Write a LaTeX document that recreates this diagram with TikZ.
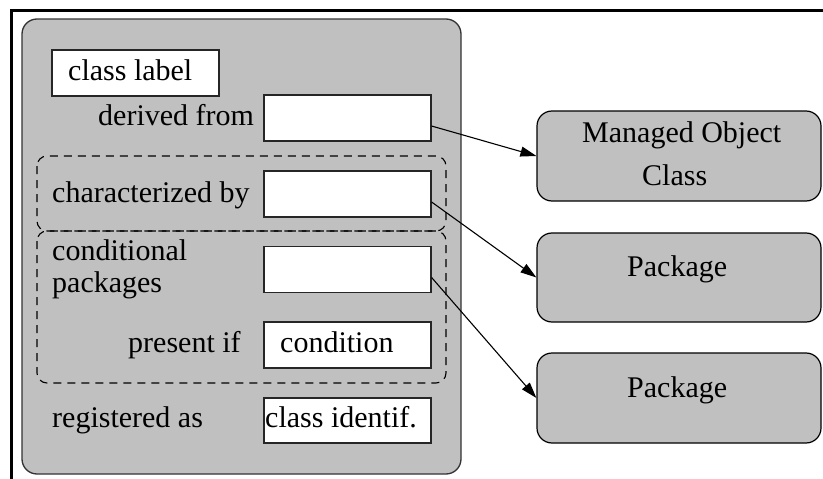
\documentclass[tikz,border=0pt]{standalone}
\usepackage{fontspec}
\setmainfont{Liberation Serif}
\newfontfamily\figfont{Liberation Serif}
\usetikzlibrary{arrows.meta,calc}
\definecolor{panel}{RGB}{192,192,192}
\tikzset{
  field/.style={draw=black!85, fill=white, line width=1.2pt, inner sep=0pt},
  lbl/.style={anchor=base west, inner sep=0pt, font=\figfont\fontsize{30}{34}\selectfont},
  target/.style={draw=black, fill=panel, line width=1.2pt, rounded corners=15pt, inner sep=0pt,
                 minimum width=284pt},
  group/.style={draw=black, dashed, dash pattern=on 8pt off 6pt, line width=1.1pt, rounded corners=10pt},
  link/.style={draw=black, line width=1.1pt, -{Triangle[length=16pt,width=10pt]}}
}
\begin{document}
\begin{tikzpicture}[x=1pt,y=-1pt]
  \useasboundingbox (0,0) rectangle (823,479);
  % outer frame: top and left rules only
  \draw[line width=3pt] (11.5,479) -- (11.5,10.5) -- (823,10.5);
  % class template panel
  \draw[draw=black!80, fill=panel, line width=1.3pt, rounded corners=15pt] (22,19) rectangle (461,474);
  % dashed groupings
  \draw[group] (37,156) rectangle (446,231);
  \draw[group] (37,231) rectangle (446,383);
  % entry fields
  \node[field, minimum width=167pt, minimum height=46pt] (labelbox) at (135.5,73) {};
  \node[field, minimum width=167pt, minimum height=46pt] (derivedbox) at (347.5,118) {};
  \node[field, minimum width=167pt, minimum height=46pt] (charbox) at (347.5,194) {};
  \node[field, minimum width=167pt, minimum height=46pt] (condbox) at (347.5,269.5) {};
  \node[field, minimum width=167pt, minimum height=46pt] (presbox) at (347.5,345) {};
  \node[field, minimum width=167pt, minimum height=45pt] (regbox) at (347.5,420.5) {};
  % field texts and captions
  \node[lbl] (tlabel) at (68,80) {class label};
  \node[lbl] (tderived) at (98,125) {derived from};
  \node[lbl] (tchar) at (52,202) {characterized by};
  \node[lbl] (tcond) at (52,260) {conditional};
  \node[lbl] (tpack) at (52,292) {packages};
  \node[lbl] (tpres) at (128,352) {present if};
  \node[lbl] (tcondition) at (280,352) {condition};
  \node[lbl] (treg) at (52,427) {registered as};
  \node[lbl] (tident) at (265,427) {class identif.};
  % referenced definitions
  \node[target, minimum height=90pt] (moc) at (679,156) {};
  \node[target, minimum height=89pt] (pkgA) at (679,277.5) {};
  \node[target, minimum height=90pt] (pkgB) at (679,398) {};
  \node[lbl] (tmoc) at (582,142) {Managed Object};
  \node[lbl] (tclass) at (642,185) {Class};
  \node[lbl] (tpkgA) at (627,276) {Package};
  \node[lbl] (tpkgB) at (627,397) {Package};
  % references
  \draw[link] ($(derivedbox.east)+(0,8)$) -- (moc.west);
  \draw[link] ($(charbox.east)+(0,8)$) -- (pkgA.west);
  \draw[link] ($(condbox.east)+(0,8)$) -- (pkgB.west);
\end{tikzpicture}
\end{document}
